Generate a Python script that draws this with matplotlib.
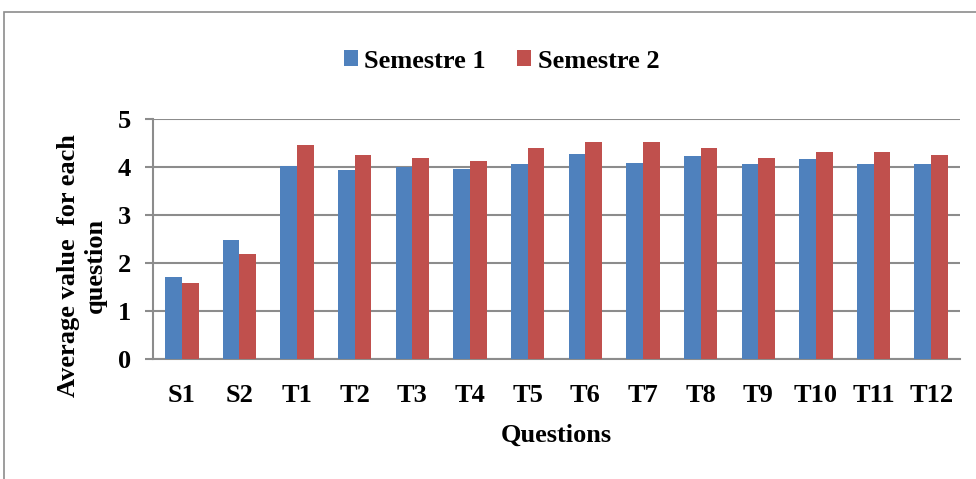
import numpy as np
import matplotlib.pyplot as plt
from matplotlib.patches import Rectangle

questions = ['S1', 'S2', 'T1', 'T2', 'T3', 'T4', 'T5', 'T6', 'T7', 'T8', 'T9', 'T10', 'T11', 'T12']
semestre1 = [1.70, 2.48, 4.02, 3.94, 4.00, 3.96, 4.06, 4.28, 4.08, 4.23, 4.06, 4.17, 4.06, 4.06]
semestre2 = [1.59, 2.19, 4.46, 4.26, 4.19, 4.12, 4.39, 4.52, 4.52, 4.39, 4.19, 4.32, 4.32, 4.26]

plt.rcParams['font.family'] = ['Liberation Serif', 'DejaVu Serif']
plt.rcParams['font.weight'] = 'bold'

fig = plt.figure(figsize=(9.76, 4.79), dpi=100)
ax = fig.add_axes([153 / 976, 1 - 359 / 479, 807 / 976, 240 / 479])

x = np.arange(len(questions))
w = 0.29
ax.bar(x - w / 2, semestre1, w, color='#4F81BD', label='Semestre 1', zorder=3)
ax.bar(x + w / 2, semestre2, w, color='#C0504D', label='Semestre 2', zorder=3)

ax.set_xlim(-0.5, len(questions) - 0.5)
ax.set_ylim(0, 5)
ax.set_yticks(range(6))
ax.yaxis.grid(True, color='#8c8c8c', linewidth=1.5, zorder=0)
for s in ['top', 'right']:
    ax.spines[s].set_visible(False)
ax.spines['left'].set_color('#8c8c8c')
ax.spines['left'].set_linewidth(1.5)
ax.spines['bottom'].set_color('#8c8c8c')
ax.spines['bottom'].set_linewidth(1.5)
ax.tick_params(axis='y', length=6, width=1.5, color='#8c8c8c', labelsize=19, pad=10)
ax.tick_params(axis='x', length=0, labelsize=19, pad=18)
ax.set_xticks(x)
ax.set_xticklabels(questions, fontweight='bold')
for lab in ax.get_yticklabels():
    lab.set_fontweight('bold')

ax.set_xlabel('Questions', fontsize=19, fontweight='bold', labelpad=12)
ax.set_ylabel('Average value  for each\nquestion', fontsize=19, fontweight='bold',
              linespacing=1.25)
ax.yaxis.set_label_coords(-0.057, 0.39)

fig.legend(loc='center', bbox_to_anchor=(0.514, 1 - 61 / 479), ncol=2, frameon=False,
           prop={'size': 19, 'weight': 'bold'}, handlelength=0.53, handleheight=0.53,
           handletextpad=0.25, columnspacing=1.2)

fig.patches.append(Rectangle((4 / 976, -0.1), 1.2, 1 - 12 / 479 + 0.1,
                             transform=fig.transFigure, fill=False,
                             edgecolor='#8c8c8c', linewidth=1.2))

fig.savefig('out.png', dpi=100)
